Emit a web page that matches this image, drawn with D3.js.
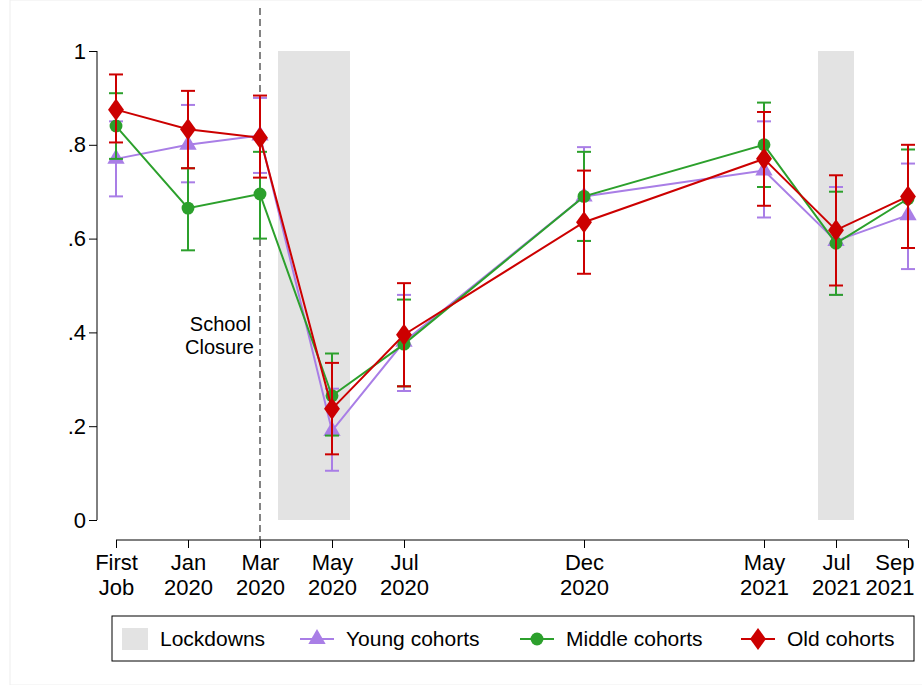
<!DOCTYPE html>
<html><head><meta charset="utf-8">
<script src="https://cdn.jsdelivr.net/npm/d3@7"></script>
<style>body{margin:0;background:#fff;font-family:"Liberation Sans",Arial,sans-serif}</style>
</head><body>
<script>
// months since Jan 2020 (First Job placed two months before)
const periods = [-2, 0, 2, 4, 6, 11, 16, 18, 20];
const tickLabels = [["First","Job"],["Jan","2020"],["Mar","2020"],["May","2020"],["Jul","2020"],["Dec","2020"],["May","2021"],["Jul","2021"],["Sep","2021"]];
const lockdowns = [[2.5, 4.5], [17.5, 18.5]];

const youngVal = [.77,.80,.82,.19,.38,.69,.745,.595,.65];
const youngLo  = [.69,.72,.74,.105,.275,.595,.645,.48,.535];
const youngHi  = [.85,.885,.90,.28,.48,.795,.85,.71,.76];
const midVal = [.84,.665,.695,.265,.375,.69,.80,.59,.685];
const midLo  = [.77,.575,.60,.18,.285,.595,.71,.48,.58];
const midHi  = [.91,.75,.785,.355,.47,.785,.89,.70,.79];
const oldVal = [.875,.833,.815,.237,.395,.635,.77,.618,.69];
const oldLo  = [.805,.75,.73,.14,.285,.525,.67,.50,.58];
const oldHi  = [.95,.915,.905,.335,.505,.745,.87,.735,.80];

const series = [
  {name:"Young cohorts", val:youngVal, lo:youngLo, hi:youngHi, color:"#a97ee6", shape:d3.symbolTriangle, size:130},
  {name:"Middle cohorts", val:midVal, lo:midLo, hi:midHi, color:"#2ca02c", shape:d3.symbolCircle, size:130},
  {name:"Old cohorts", val:oldVal, lo:oldLo, hi:oldHi, color:"#cc0000", shape:d3.symbolDiamond, size:140}
];

const W = 922, H = 685;
const svg = d3.select("body").append("svg").attr("width", W).attr("height", H);
svg.append("rect").attr("x",10).attr("y",0).attr("width",W).attr("height",H).attr("fill","#fff").attr("stroke","#eee");

const x = d3.scaleLinear().domain([0, 1]).range([188, 224]);
const y = d3.scaleLinear().domain([0, 1]).range([520, 51]);

svg.selectAll(".ld").data(lockdowns).join("rect")
  .attr("x", d => x(d[0])).attr("width", d => x(d[1]) - x(d[0]))
  .attr("y", y(1)).attr("height", y(0) - y(1)).attr("fill", "#e3e3e3");

const ya = svg.append("g").attr("transform","translate(97,0)")
  .call(d3.axisLeft(y).tickValues([0,.2,.4,.6,.8,1]).tickSize(8).tickFormat(d => d===0?"0":d===1?"1":d3.format(".1f")(d).replace("0.",".")));
ya.selectAll("text").attr("font-size",22).attr("fill","#000");
ya.select(".domain").attr("d","M-0,51V520");

const xa = svg.append("g").attr("transform","translate(0,540)")
  .call(d3.axisBottom(x).tickValues(periods).tickSize(8).tickFormat(""));
xa.select(".domain").attr("d", `M${x(-2)},0H${x(20)}`);
xa.selectAll(".tick").each(function(d, i) {
  const last = i === periods.length - 1;
  const t = d3.select(this).append("text").attr("fill","#000").attr("font-size",22)
    .attr("text-anchor", last ? "end" : "middle");
  const tx = last ? 6 : 0;
  t.append("tspan").attr("x",tx).attr("y",30).text(tickLabels[i][0]);
  t.append("tspan").attr("x",tx).attr("y",55).text(tickLabels[i][1]);
});

svg.append("line").attr("x1",x(2)).attr("x2",x(2)).attr("y1",8).attr("y2",540)
  .attr("stroke","#333").attr("stroke-dasharray","7,4").attr("stroke-width",1.2);
const sc = svg.append("text").attr("font-size",20).attr("text-anchor","end").attr("fill","#000");
sc.append("tspan").attr("x",x(2)-9).attr("y",331).text("School");
sc.append("tspan").attr("x",x(2)-6).attr("y",354).text("Closure");

const line = d3.line().x((d,i) => x(periods[i])).y(d => y(d));
series.forEach(s => {
  const g = svg.append("g");
  periods.forEach((p, i) => {
    const cx = x(p);
    g.append("line").attr("x1",cx).attr("x2",cx).attr("y1",y(s.lo[i])).attr("y2",y(s.hi[i])).attr("stroke",s.color).attr("stroke-width",2);
    [s.lo[i], s.hi[i]].forEach(v => g.append("line").attr("x1",cx-7).attr("x2",cx+7).attr("y1",y(v)).attr("y2",y(v)).attr("stroke",s.color).attr("stroke-width",2));
  });
  g.append("path").attr("d", line(s.val)).attr("fill","none").attr("stroke",s.color).attr("stroke-width",2);
  g.selectAll(".m").data(s.val).join("path")
    .attr("transform",(d,i) => `translate(${x(periods[i])},${y(d)})` + (s.shape===d3.symbolDiamond ? " scale(1.25,1)" : ""))
    .attr("d", d3.symbol().type(s.shape).size(s.size)).attr("fill",s.color);
});

const lg = svg.append("g");
lg.append("rect").attr("x",112).attr("y",616).attr("width",802).attr("height",45).attr("fill","#fff").attr("stroke","#000");
lg.append("rect").attr("x",122).attr("y",628).attr("width",26).attr("height",22).attr("fill","#e3e3e3");
lg.append("text").attr("x",160).attr("y",646).attr("font-size",21).text("Lockdowns");
const lx = [300, 520, 741];
series.forEach((s, i) => {
  lg.append("line").attr("x1",lx[i]).attr("x2",lx[i]+34).attr("y1",639).attr("y2",639).attr("stroke",s.color).attr("stroke-width",2);
  lg.append("path").attr("transform",`translate(${lx[i]+17},639)` + (s.shape===d3.symbolDiamond ? " scale(1.25,1)" : ""))
    .attr("d",d3.symbol().type(s.shape).size(s.size)).attr("fill",s.color);
  lg.append("text").attr("x",lx[i]+46).attr("y",646).attr("font-size",21).text(s.name);
});
</script>
</body></html>
